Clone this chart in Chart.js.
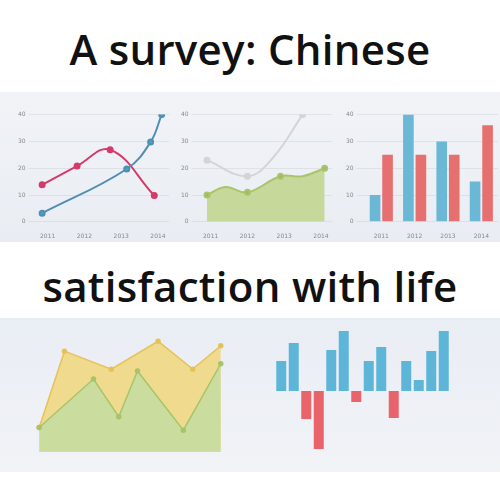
<!DOCTYPE html>
<html lang="en">
<head>
<meta charset="UTF-8">
<title>A survey: Chinese satisfaction with life</title>
<script src="https://cdn.jsdelivr.net/npm/chart.js"></script>
<style>
  body { margin: 0; width: 500px; height: 500px; background: #fff; position: relative; overflow: hidden; font-family: "Open Sans", sans-serif; }
  .band { position: absolute; left: 0; width: 500px; }
  .title { position: absolute; left: 0; width: 500px; text-align: center; font-weight: 600; font-size: 42px; color: #111; letter-spacing: 0.3px; }
  canvas { position: absolute; }
</style>
</head>
<body>
<div class="band" style="top:92px;height:150px;background:linear-gradient(#f1f3f7,#e9edf3);"></div>
<div class="band" style="top:318px;height:154px;background:linear-gradient(#e9edf4,#f1f3f7);"></div>
<div class="title" style="top:20px">A survey: Chinese</div>
<div class="title" style="top:257px">satisfaction with life</div>

<canvas id="c1" width="160" height="135" style="left:15px;top:108px"></canvas>
<canvas id="c2" width="160" height="135" style="left:178px;top:108px"></canvas>
<canvas id="c3" width="155" height="135" style="left:343px;top:108px"></canvas>
<canvas id="c4" width="245" height="135" style="left:0px;top:325px"></canvas>
<canvas id="c5" width="175" height="130" style="left:275px;top:328px"></canvas>

<script>
const years = [2011, 2012, 2013, 2014];
const yTicks = [0, 10, 20, 30, 40];

// chart 1: two smooth lines
const blueLine = [{x: 2010.85, y: 3.2}, {x: 2013.15, y: 19.7}, {x: 2013.8, y: 29.8}, {x: 2014.1, y: 40}];
const pinkLine = [{x: 2010.85, y: 13.8}, {x: 2011.8, y: 20.8}, {x: 2012.7, y: 26.9}, {x: 2013.9, y: 9.8}];

// chart 2: grey line and green area
const greyLine = [{x: 2010.9, y: 23}, {x: 2012, y: 17}, {x: 2012.7, y: 24}, {x: 2013.5, y: 40}];
const greenArea = [{x: 2010.9, y: 10}, {x: 2011.4, y: 13}, {x: 2012, y: 11}, {x: 2012.9, y: 17}, {x: 2013.5, y: 17}, {x: 2014.1, y: 20}];
const greenRadius = [2.5, 0, 2.5, 2.5, 0, 2.5];

// chart 3: grouped bars
const barBlue = [10, 40, 30, 15];
const barRed = [25, 25, 25, 36];

// chart 4: overlapping areas
const yellowArea = [{x: 36, y: 27}, {x: 63, y: 112}, {x: 113, y: 92}, {x: 163, y: 123}, {x: 200, y: 92}, {x: 230, y: 118}];
const greenArea2 = [{x: 36, y: 27}, {x: 94, y: 81}, {x: 121, y: 39}, {x: 141, y: 90}, {x: 190, y: 24}, {x: 230, y: 98}];

// chart 5: positive / negative bars
const pnValues = [30, 48, -28, -58, 41, 60, -11, 30, 44, -27, 30, 11, 40, 60];

const tickFont = { family: 'DejaVu Sans', size: 6 };
const tickColor = '#888';
const gridColor = 'rgba(0,0,0,0.06)';

function lineScales() {
  return {
    x: { type: 'linear', min: 2010.7, max: 2014.3, grid: { display: false }, border: { display: false },
         afterBuildTicks: s => { s.ticks = years.map(v => ({ value: v })); },
         ticks: { font: tickFont, color: tickColor, callback: v => String(v) } },
    y: { min: 0, max: 40, grid: { color: gridColor }, border: { display: false },
         afterBuildTicks: s => { s.ticks = yTicks.map(v => ({ value: v })); },
         ticks: { font: tickFont, color: tickColor } }
  };
}
const base = { responsive: false, animation: false, plugins: { legend: { display: false }, tooltip: { enabled: false } } };

new Chart(document.getElementById('c1'), {
  type: 'line',
  data: { datasets: [
    { data: blueLine, borderColor: '#4f8fb3', backgroundColor: '#4f9fc3', borderWidth: 2, tension: 0.4, pointRadius: 2.5 },
    { data: pinkLine, borderColor: '#d43a6a', backgroundColor: '#d43a6a', borderWidth: 2, tension: 0.4, pointRadius: 2.5 }
  ] },
  options: { ...base, scales: lineScales() }
});

new Chart(document.getElementById('c2'), {
  type: 'line',
  data: { datasets: [
    { data: greyLine, borderColor: '#d4d4d8', backgroundColor: '#d4d4d8', borderWidth: 2, tension: 0.4, pointRadius: [2.5, 2.5, 0, 2.5] },
    { data: greenArea, borderColor: '#a9c46a', backgroundColor: '#c6d99a', fill: 'origin', borderWidth: 2, tension: 0.4, pointRadius: greenRadius, pointBackgroundColor: '#a0bb60' }
  ] },
  options: { ...base, scales: lineScales() }
});

new Chart(document.getElementById('c3'), {
  type: 'bar',
  data: { labels: years, datasets: [
    { data: barBlue, backgroundColor: '#6ab7d6', categoryPercentage: 0.75, barPercentage: 0.85 },
    { data: barRed, backgroundColor: '#e5706f', categoryPercentage: 0.75, barPercentage: 0.85 }
  ] },
  options: { ...base, scales: {
    x: { grid: { display: false }, border: { display: false }, ticks: { font: tickFont, color: tickColor } },
    y: { min: 0, max: 40, grid: { color: gridColor }, border: { display: false },
         afterBuildTicks: s => { s.ticks = yTicks.map(v => ({ value: v })); },
         ticks: { font: tickFont, color: tickColor } }
  } }
});

new Chart(document.getElementById('c4'), {
  type: 'line',
  data: { datasets: [
    { data: greenArea2, borderColor: '#a6c46a', backgroundColor: '#cadc9e', fill: 'origin', borderWidth: 1.5, tension: 0, pointRadius: 2, pointBackgroundColor: '#a9c46a', order: 1 },
    { data: yellowArea, borderColor: '#e5c25a', backgroundColor: '#f0da8e', fill: 'origin', borderWidth: 1.5, tension: 0, pointRadius: 2, pointBackgroundColor: '#e3bf55', order: 2 }
  ] },
  options: { ...base, layout: { padding: 0 }, scales: {
    x: { type: 'linear', display: false, afterDataLimits: s => { s.min = 0; s.max = 245; } },
    y: { min: 0, max: 135, display: false, afterDataLimits: s => { s.min = -3; s.max = 132; } }
  } }
});

new Chart(document.getElementById('c5'), {
  type: 'bar',
  data: { labels: pnValues.map((v, i) => i + 1), datasets: [
    { data: pnValues, backgroundColor: pnValues.map(v => v >= 0 ? '#5db6d8' : '#e8646a'), categoryPercentage: 1, barPercentage: 0.8 }
  ] },
  options: { ...base, scales: {
    x: { display: false },
    y: { min: -67, max: 63, display: false }
  } }
});
</script>
</body>
</html>
